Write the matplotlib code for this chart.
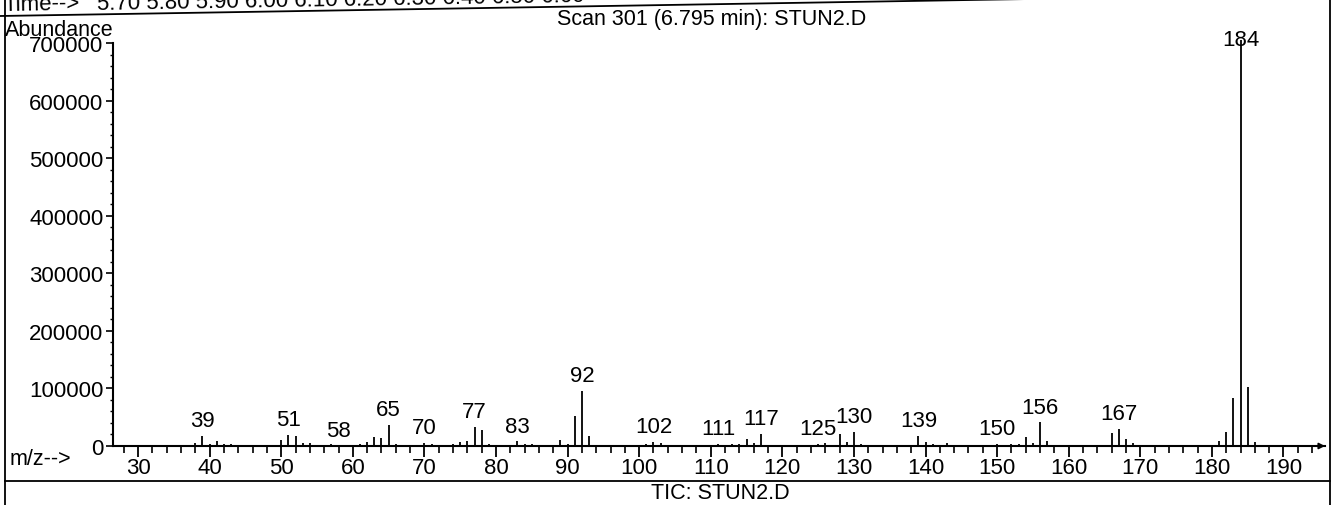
import matplotlib.pyplot as plt
from matplotlib.lines import Line2D

plt.rcParams['font.family'] = ['Liberation Sans', 'DejaVu Sans']

# spectrum (m/z, abundance)
mz = [38, 39, 40, 41, 42, 43, 50, 51, 52, 53, 54, 57, 58,
      61, 62, 63, 64, 65, 66, 69, 70, 71,
      74, 75, 76, 77, 78, 79, 83, 84, 85, 89, 90, 91, 92, 93,
      101, 102, 103, 111, 113, 114, 115, 116, 117,
      125, 126, 128, 129, 130, 131, 139, 140, 141, 143,
      150, 152, 153, 154, 155, 156, 157, 166, 167, 168, 169,
      181, 182, 183, 184, 185, 186]
abundance = [5000, 18000, 3000, 8000, 3000, 4000, 10000, 19000, 18000, 6000, 5000, 3000, 1000,
             4000, 7000, 15000, 14000, 37000, 4000, 2000, 5000, 3000,
             4000, 7000, 9000, 33000, 28000, 3000, 8000, 4000, 3000, 10000, 4000, 52000, 96000, 18000,
             4000, 7000, 6000, 3000, 3000, 3000, 12000, 5000, 21000,
             3000, 5000, 20000, 7000, 24000, 3000, 18000, 7000, 4000, 6000,
             4000, 3000, 3000, 15000, 6000, 41000, 9000, 22000, 30000, 12000, 5000,
             9000, 24000, 84000, 706000, 103000, 7000]
labeled = [39, 51, 58, 65, 70, 77, 83, 92, 102, 111, 117, 125, 130, 139, 150, 156, 167, 184]
y_ticks = [0, 100000, 200000, 300000, 400000, 500000, 600000, 700000]
x_ticks = list(range(30, 200, 10))
time_labels = ['5.70', '5.80', '5.90', '6.00', '6.10', '6.20', '6.30', '6.40', '6.50', '6.60']

W, H = 1337, 506
fig = plt.figure(figsize=(W / 100, H / 100), dpi=100)


def fx(x):
    return x / W


def fy(y):
    return 1 - y / H


# axes placed to match the scan: y-axis at x=113, baseline at y=447
ax = fig.add_axes([fx(113), fy(447), (1325 - 113) / W, (447 - 21) / H])
ax.set_xlim(26.5, 195.8)
ax.set_ylim(0, 740000)

ax.vlines(mz, 0, abundance, color='black', lw=1.3)

heights = dict(zip(mz, abundance))
for m in labeled:
    h = min(heights.get(m, 0), 680000)
    ax.annotate(str(m), (m, h), xytext=(0, 3.5), textcoords='offset points',
                ha='center', va='bottom', fontsize=16)

for s in ['top', 'right']:
    ax.spines[s].set_visible(False)
ax.spines['left'].set_bounds(0, 700000)
ax.spines['left'].set_linewidth(1.5)
ax.spines['bottom'].set_linewidth(1.5)

ax.set_yticks(y_ticks)
ax.set_yticklabels([str(v) for v in y_ticks])
ax.set_yticks(range(0, 700001, 20000), minor=True)
ax.set_xticks(x_ticks)
ax.set_xticks(range(28, 196, 2), minor=True)
ax.tick_params(axis='x', which='major', length=8, width=1.3, pad=0, labelsize=16)
ax.tick_params(axis='x', which='minor', length=5, width=1.2)
ax.tick_params(axis='y', which='major', length=5, width=1.2, pad=2, labelsize=16)
ax.tick_params(axis='y', which='minor', length=2.5, width=1)

ax.annotate('', xy=(196.2, 0), xytext=(194.0, 0),
            arrowprops=dict(arrowstyle='-|>', color='black', lw=1.2, mutation_scale=9),
            annotation_clip=False)

# page text around the plot (the scanned page is slightly tilted at the top)
tilt = 0.95
fig.text(fx(712), fy(19), 'Scan 301 (6.795 min): STUN2.D', ha='center', va='center', fontsize=15.5)
fig.text(fx(5), fy(30), 'Abundance', ha='left', va='center', fontsize=15.5)
fig.text(fx(10), fy(460), 'm/z-->', ha='left', va='center', fontsize=15.5)
fig.text(fx(720), fy(494), 'TIC: STUN2.D', ha='center', va='center', fontsize=15.5)
fig.text(fx(3), fy(11), 'Time-->', ha='left', va='baseline', fontsize=16,
         rotation=tilt, rotation_mode='anchor')
fig.text(fx(97), fy(9.5), ' '.join(time_labels), ha='left', va='baseline', fontsize=16,
         rotation=tilt, rotation_mode='anchor')

# frame lines of the printout
frame = [([0, 1030], [17, 0]), ([5, 5], [0, H]), ([1330, 1330], [0, H]), ([5, 1330], [482, 482])]
for xs, ys in frame:
    fig.add_artist(Line2D([fx(v) for v in xs], [fy(v) for v in ys], color='black', lw=1.3,
                          transform=fig.transFigure))

fig.savefig('out.png', dpi=100)
